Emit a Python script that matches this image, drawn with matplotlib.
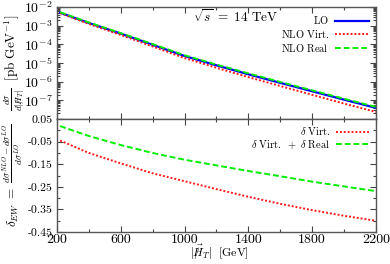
import numpy as np
import matplotlib
matplotlib.use('Agg')
import matplotlib.pyplot as plt
from matplotlib.ticker import FixedLocator, FixedFormatter, LogLocator, NullFormatter

plt.rcParams['font.family'] = 'serif'
plt.rcParams['font.serif'] = ['cmr10', 'DejaVu Serif']
plt.rcParams['mathtext.fontset'] = 'cm'
plt.rcParams['axes.unicode_minus'] = False
plt.rcParams['axes.formatter.use_mathtext'] = True

# missing HT values (GeV)
ht = [220, 400, 600, 800, 1000, 1200, 1400, 1600, 1800, 2000, 2200]

# top panel: log10 of dsigma/dHT [pb/GeV]
lo_log = [-2.30, -2.85, -3.42, -4.02, -4.62, -5.12, -5.60, -6.06, -6.51, -6.96, -7.40]
nlo_virt_log = [-2.32, -2.90, -3.49, -4.11, -4.73, -5.25, -5.75, -6.23, -6.70, -7.17, -7.62]
nlo_real_log = [-2.27, -2.82, -3.39, -3.98, -4.58, -5.08, -5.55, -6.01, -6.46, -6.91, -7.35]

# bottom panel: relative corrections
delta_virt = [-0.045, -0.100, -0.146, -0.190, -0.225, -0.260, -0.294, -0.325, -0.353, -0.378, -0.400]
delta_virt_real = [0.019, -0.025, -0.065, -0.100, -0.130, -0.155, -0.180, -0.203, -0.227, -0.248, -0.269]

xticks = [200, 600, 1000, 1400, 1800, 2200]
yticks_bot = [-0.45, -0.35, -0.25, -0.15, -0.05, 0.05]

fig = plt.figure(figsize=(3.9, 2.64), dpi=100)
ax1 = fig.add_axes([0.146, 0.549, 0.818, 0.424])
ax2 = fig.add_axes([0.146, 0.121, 0.818, 0.428])

c_blue = '#0000ff'
c_red = '#ff1a1a'
c_green = '#00ee00'

ax1.plot(ht, 10 ** np.array(lo_log), color=c_blue, lw=1.6, label=r'$\mathrm{LO}$')
ax1.plot(ht, 10 ** np.array(nlo_virt_log), color=c_red, lw=1.4, ls=(0, (1, 1)), label=r'$\mathrm{NLO\ Virt.}$')
ax1.plot(ht, 10 ** np.array(nlo_real_log), color=c_green, lw=1.4, ls=(0, (3, 1.5)), label=r'$\mathrm{NLO\ Real}$')
ax1.set_yscale('log')
ax1.set_ylim(1e-8, 1e-2)
ax1.set_xlim(200, 2200)
ax1.yaxis.set_major_locator(FixedLocator([1e-8, 1e-7, 1e-6, 1e-5, 1e-4, 1e-3, 1e-2]))
ax1.yaxis.set_major_formatter(FixedFormatter(['', r'$10^{-7}$', r'$10^{-6}$', r'$10^{-5}$',
                                              r'$10^{-4}$', r'$10^{-3}$', r'$10^{-2}$']))
ax1.yaxis.set_minor_locator(LogLocator(base=10, subs=np.arange(2, 10), numticks=20))
ax1.yaxis.set_minor_formatter(NullFormatter())
ax1.xaxis.set_major_locator(FixedLocator(xticks))
ax1.xaxis.set_minor_locator(FixedLocator([400, 800, 1200, 1600, 2000]))
ax1.set_xticklabels([])
ax1.text(0.56, 0.92, r'$\sqrt{s}\ =\ 14\ \mathrm{TeV}$', transform=ax1.transAxes,
         ha='center', va='center', fontsize=9.5)
leg1 = ax1.legend(loc='upper right', frameon=False, markerfirst=False, fontsize=7.5,
                  handlelength=3.2, labelspacing=0.15, borderaxespad=0.3, handletextpad=0.6)
for t in leg1.get_texts():
    t.set_ha('right')
ax1.set_ylabel(r'$\frac{d\sigma}{d|/\!\!\!\!H_T|}\ \ [\mathrm{pb\ GeV}^{-1}]$', fontsize=9.5)
ax1.yaxis.set_label_coords(-0.095, 0.5)

ax2.plot(ht, delta_virt, color=c_red, lw=1.4, ls=(0, (1, 1)), label=r'$\delta\ \mathrm{Virt.}$')
ax2.plot(ht, delta_virt_real, color=c_green, lw=1.4, ls=(0, (3, 1.5)),
         label=r'$\delta\ \mathrm{Virt.}\ +\ \delta\ \mathrm{Real}$')
ax2.set_xlim(200, 2200)
ax2.set_ylim(-0.45, 0.05)
ax2.yaxis.set_major_locator(FixedLocator(yticks_bot))
ax2.yaxis.set_major_formatter(FixedFormatter(['%.2f' % v for v in yticks_bot]))
ax2.yaxis.set_minor_locator(FixedLocator([-0.40, -0.30, -0.20, -0.10, 0.0]))
ax2.xaxis.set_major_locator(FixedLocator(xticks))
ax2.xaxis.set_major_formatter(FixedFormatter([str(v) for v in xticks]))
ax2.xaxis.set_minor_locator(FixedLocator([400, 800, 1200, 1600, 2000]))
leg2 = ax2.legend(loc='upper right', frameon=False, markerfirst=False, fontsize=7.5,
                  handlelength=3.2, labelspacing=0.15, borderaxespad=0.2, handletextpad=0.6)
for t in leg2.get_texts():
    t.set_ha('right')
ax2.set_ylabel(r'$\delta_{EW}\ =\ \frac{d\sigma^{NLO} - d\sigma^{LO}}{d\sigma^{LO}}$', fontsize=9.5)
ax2.yaxis.set_label_coords(-0.098, 0.5)
ax2.set_xlabel(r'$|\vec{/\!\!\!\!H}_T|\ \ [\mathrm{GeV}]$', fontsize=8.5)
ax2.xaxis.set_label_coords(0.51, -0.268)
ax2.xaxis.label.set_va('bottom')

for ax in (ax1, ax2):
    ax.tick_params(which='both', direction='in', top=True, right=True, labelsize=10, color='#444444')
    ax.tick_params(which='major', length=4, width=0.8, pad=3)
    ax.tick_params(which='minor', length=2, width=0.8)
    for s in ax.spines.values():
        s.set_color('#555555')
        s.set_linewidth(1.0)
ax2.tick_params(axis='y', labelsize=8.5)
ax2.tick_params(axis='x', pad=1.5)

fig.savefig('out.png', dpi=100)
